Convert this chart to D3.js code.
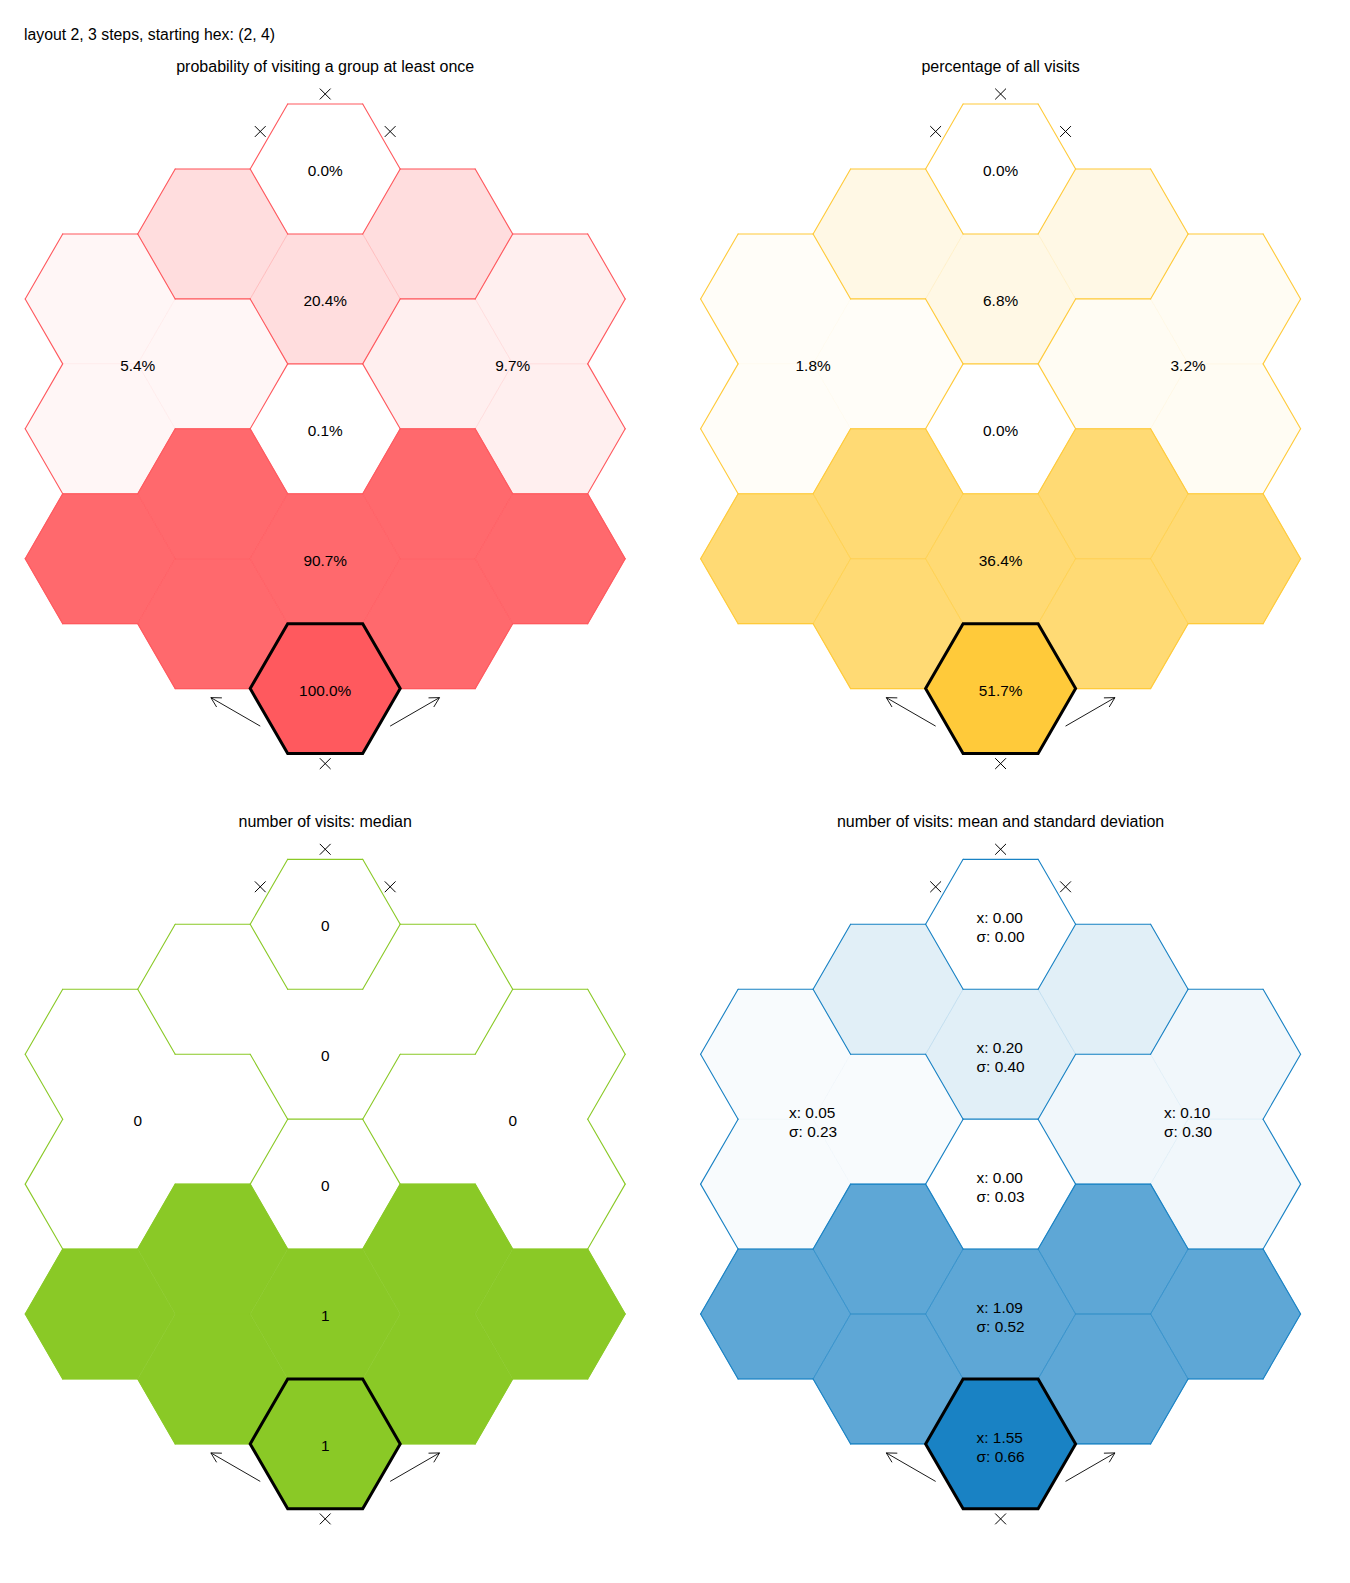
<!DOCTYPE html>
<html>
<head>
<meta charset="utf-8">
<script src="https://cdn.jsdelivr.net/npm/d3@7"></script>
<style>
  html, body { margin: 0; padding: 0; background: #ffffff; }
  svg { display: block; }
  text { font-family: "Liberation Sans", Arial, sans-serif; fill: #000; }
</style>
</head>
<body>
<svg id="chart" width="1350" height="1583"></svg>
<script>
// ---------- data ----------
const figureTitle = "layout 2, 3 steps, starting hex: (2, 4)";
const panelTitles = [
  "probability of visiting a group at least once",
  "percentage of all visits",
  "number of visits: median",
  "number of visits: mean and standard deviation"
];
const panelColors = ["#ff595e", "#ffca3a", "#8ac926", "#1982c4"];

// hex grid (column, row, group)
const hexCol   = [2, 1, 2, 3, 0, 0, 1, 4, 4, 3, 2, 0, 1, 1, 2, 3, 3, 4, 2];
const hexRow   = [0, 0, 1, 0, 1, 2, 1, 1, 2, 1, 2, 3, 2, 3, 3, 2, 3, 3, 4];
const hexGroup = [0, 1, 1, 1, 2, 2, 2, 3, 3, 3, 4, 5, 5, 5, 5, 5, 5, 5, 6];
const startHex = [2, 4];

// values per group (groups 0..6)
const probVisit   = [0.0, 20.4, 5.4, 9.7, 0.1, 90.7, 100.0];
const pctVisits   = [0.0, 6.8, 1.8, 3.2, 0.0, 36.4, 51.7];
const medianVisit = [0, 0, 0, 0, 0, 1, 1];
const meanVisit   = [0.00, 0.20, 0.05, 0.10, 0.00, 1.09, 1.55];
const sdVisit     = [0.00, 0.40, 0.23, 0.30, 0.03, 0.52, 0.66];

// markers: [col, row, direction]
const crossMarks = [[2, 0, "up"], [2, 0, "UL"], [2, 0, "UR"], [2, 4, "down"]];
const arrowMarks = [[2, 4, "LL", "UL"], [2, 4, "LR", "UR"]];

// ---------- layout ----------
const S = 75;                 // hex radius
const H = Math.sqrt(3) * S;   // hex height
const panelCX = [325.2, 1000.6];
const panelTop = [169, 924.3];
const titleBase = [72, 827.3];
const labelSize = 15.4;

const dirs = {
  up:   {dc: 0, dy: -2, v: [4, 5], u: [0, -1]},
  UR:   {dc: 1, dy: -1, v: [5, 0], u: [Math.sqrt(3)/2, -0.5]},
  LR:   {dc: 1, dy: 1,  v: [0, 1], u: [Math.sqrt(3)/2, 0.5]},
  down: {dc: 0, dy: 2,  v: [1, 2], u: [0, 1]},
  LL:   {dc: -1, dy: 1, v: [2, 3], u: [-Math.sqrt(3)/2, 0.5]},
  UL:   {dc: -1, dy: -1, v: [3, 4], u: [-Math.sqrt(3)/2, -0.5]}
};
const verts = d3.range(6).map(k => [S * Math.cos(k * Math.PI / 3), S * Math.sin(k * Math.PI / 3)]);
const yIdx = (c, r) => 2 * r + (c % 2 === 1 ? 1 : 0);

const hexes = hexCol.map((c, i) => ({c, r: hexRow[i], yi: yIdx(c, hexRow[i]), g: hexGroup[i]}));
const hexKey = new Map(hexes.map(h => [h.c + "," + h.yi, h]));

const panels = [
  {values: probVisit, fmt: v => [v.toFixed(1) + "%"]},
  {values: pctVisits, fmt: v => [v.toFixed(1) + "%"]},
  {values: medianVisit, fmt: v => [String(v)]},
  {values: meanVisit, fmt: (v, i) => ["x: " + v.toFixed(2), "σ: " + sdVisit[i].toFixed(2)]}
];

function segDist(px, py, ax, ay, bx, by) {
  const vx = bx - ax, vy = by - ay;
  let t = ((px - ax) * vx + (py - ay) * vy) / (vx * vx + vy * vy);
  t = Math.max(0, Math.min(1, t));
  return Math.hypot(px - (ax + t * vx), py - (ay + t * vy));
}

const svg = d3.select("#chart");
svg.append("rect").attr("width", 1350).attr("height", 1583).attr("fill", "#fff");

svg.append("text").attr("x", 24).attr("y", 40).attr("font-size", 15.8).text(figureTitle);

const hexPath = d3.line()(verts) + "Z";

panels.forEach((p, pi) => {
  const px = pi % 2, py = Math.floor(pi / 2);
  const cx = panelCX[px], ty = panelTop[py];
  const color = panelColors[pi];
  const x = d3.scaleLinear().domain([2, 3]).range([cx, cx + 1.5 * S]);
  const y = d3.scaleLinear().domain([0, 1]).range([ty, ty + H / 2]);
  const alpha = d3.scaleLinear().domain([0, d3.max(p.values)]).range([0, 1]);
  const gp = svg.append("g");

  gp.append("text").attr("x", cx).attr("y", titleBase[py]).attr("text-anchor", "middle")
    .attr("font-size", 16).text(panelTitles[pi]);

  // hex fills
  gp.selectAll("path.hex").data(hexes).join("path")
    .attr("class", "hex")
    .attr("transform", d => `translate(${x(d.c)},${y(d.yi)})`)
    .attr("d", hexPath)
    .attr("fill", color)
    .attr("fill-opacity", d => alpha(p.values[d.g]))
    .attr("stroke", color)
    .attr("stroke-opacity", d => alpha(p.values[d.g]))
    .attr("stroke-width", 0.6);

  // group outlines
  const edges = [];
  const boundaryByGroup = new Map();
  hexes.forEach(h => {
    Object.values(dirs).forEach(dd => {
      const nb = hexKey.get((h.c + dd.dc) + "," + (h.yi + dd.dy));
      if (!nb || nb.g !== h.g) {
        const seg = [x(h.c) + verts[dd.v[0]][0], y(h.yi) + verts[dd.v[0]][1],
                     x(h.c) + verts[dd.v[1]][0], y(h.yi) + verts[dd.v[1]][1]];
        if (!boundaryByGroup.has(h.g)) boundaryByGroup.set(h.g, []);
        boundaryByGroup.get(h.g).push(seg);
        if (nb && (nb.c * 100 + nb.yi) < (h.c * 100 + h.yi)) return;
        edges.push(seg);
      }
    });
  });
  gp.selectAll("line.edge").data(edges).join("line")
    .attr("class", "edge")
    .attr("x1", e => e[0]).attr("y1", e => e[1])
    .attr("x2", e => e[2]).attr("y2", e => e[3])
    .attr("stroke", color).attr("stroke-width", 1.1).attr("stroke-linecap", "round");

  // start hex outline
  gp.append("path")
    .attr("transform", `translate(${x(startHex[0])},${y(yIdx(startHex[0], startHex[1]))})`)
    .attr("d", hexPath).attr("fill", "none").attr("stroke", "#000")
    .attr("stroke-width", 3).attr("stroke-linejoin", "miter");

  // group labels: point deepest inside the group (centroid or a hex centre)
  const groups = d3.groups(hexes, h => h.g).map(([g, hs]) => {
    const mx = d3.mean(hs, h => x(h.c)), my = d3.mean(hs, h => y(h.yi));
    const cands = [[mx, my]].concat(hs.map(h => [x(h.c), y(h.yi)]));
    const bnd = boundaryByGroup.get(g);
    let best = null, bestD = -1, bestC = Infinity;
    cands.forEach(([qx, qy]) => {
      const inside = hs.some(h => {
        const dx = Math.abs(qx - x(h.c)), dy = Math.abs(qy - y(h.yi));
        return dy <= H / 2 + 0.5 && Math.sqrt(3) * dx + dy <= Math.sqrt(3) * S + 0.5;
      });
      if (!inside) return;
      const d = d3.min(bnd, s => segDist(qx, qy, s[0], s[1], s[2], s[3]));
      const dc = Math.hypot(qx - mx, qy - my);
      if (d > bestD + 0.5 || (Math.abs(d - bestD) <= 0.5 && dc < bestC)) {
        best = [qx, qy]; bestD = Math.max(d, bestD); bestC = dc;
      }
    });
    return {g, cx: best[0], cy: best[1]};
  });
  groups.forEach(gr => {
    const lines = p.fmt(p.values[gr.g], gr.g);
    if (lines.length === 1) {
      gp.append("text").attr("x", gr.cx).attr("y", gr.cy + 7).attr("text-anchor", "middle")
        .attr("font-size", labelSize).text(lines[0]);
    } else {
      const ts = lines.map((t, li) => gp.append("text")
        .attr("y", gr.cy + (li === 0 ? -1 : 18)).attr("font-size", labelSize).text(t));
      const w = d3.max(ts, t => t.node().getComputedTextLength());
      ts.forEach(t => t.attr("x", gr.cx - w / 2));
    }
  });

  // cross markers
  crossMarks.forEach(([c, r, dn]) => {
    const u = dirs[dn].u;
    const mx = x(c) + S * u[0], my = y(yIdx(c, r)) + S * u[1];
    const k = 5.4;
    gp.append("path")
      .attr("d", `M${mx - k},${my - k}L${mx + k},${my + k}M${mx - k},${my + k}L${mx + k},${my - k}`)
      .attr("stroke", "#000").attr("stroke-width", 1).attr("fill", "none");
  });

  // arrows
  arrowMarks.forEach(([c, r, from, to]) => {
    const u0 = dirs[from].u, u1 = dirs[to].u;
    const sx = x(c) + S * u0[0], sy = y(yIdx(c, r)) + S * u0[1];
    const L = 57;
    const ex = sx + L * u1[0], ey = sy + L * u1[1];
    const ang = Math.atan2(-u1[1], -u1[0]);
    const a = 11, hw = 0.5;
    const p1 = [ex + a * Math.cos(ang + hw), ey + a * Math.sin(ang + hw)];
    const p2 = [ex + a * Math.cos(ang - hw), ey + a * Math.sin(ang - hw)];
    gp.append("path")
      .attr("d", `M${sx},${sy}L${ex},${ey}M${p1[0]},${p1[1]}L${ex},${ey}L${p2[0]},${p2[1]}`)
      .attr("stroke", "#000").attr("stroke-width", 0.9).attr("fill", "none");
  });
});
</script>
</body>
</html>
